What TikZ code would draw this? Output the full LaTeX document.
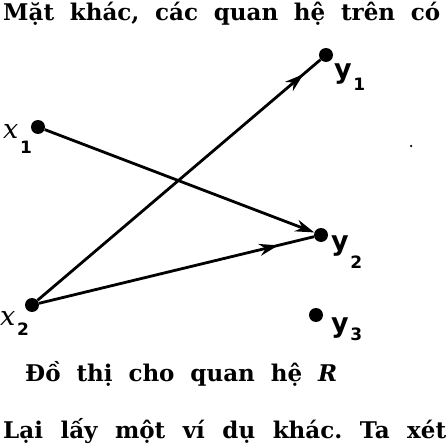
\documentclass[tikz,border=0pt]{standalone}
\usepackage{fontspec}
\setmainfont{DejaVu Serif}
\newfontfamily\labelfont{DejaVu Sans}
\usetikzlibrary{arrows.meta,decorations.markings}
\frenchspacing

\newcommand{\nhan}[3][12pt]{{\fontsize{27}{27}\selectfont #2}\,\raisebox{-#1}{\labelfont\bfseries\fontsize{17}{17}\selectfont #3}}

\tikzset{
	dinh/.style={circle, fill=black, inner sep=0pt, minimum size=14pt},
	nhan/.style={inner sep=0pt, anchor=base west},
	canh/.style={line width=2.8pt},
	mui/.style={postaction={decorate}, decoration={markings,
		mark=at position #1 with {\arrow{Stealth[length=19pt,width=12pt]}}}},
	chu/.style={inner sep=0pt, anchor=base west, font=\fontsize{23}{23}\selectfont\bfseries}
}

\begin{document}
\begin{tikzpicture}[x=1pt,y=-1pt]

		\useasboundingbox (0,0) rectangle (448,447);

		% Van ban
		\node[chu] (dongtren) at (3,20) {\makebox[437pt][s]{Mặt khác, các quan hệ trên có}};
		\node[chu] (chuthich) at (25,381) {\makebox[312pt][s]{Đồ thị cho quan hệ \textit{R}}};
		\node[chu] (dongduoi) at (3,438) {\makebox[443pt][s]{Lại lấy một ví dụ khác. Ta xét}};

		% Dinh
		\node[dinh] (x1) at (38,127) {};
		\node[dinh] (x2) at (32,305) {};
		\node[dinh] (y1) at (326,55) {};
		\node[dinh] (y2) at (321,235) {};
		\node[dinh] (y3) at (316,315) {};
		\node[circle, fill=black, inner sep=0pt, minimum size=2.5pt] (cham) at (411,146) {};

		% Nhan
		\node[nhan] (nx1) at (3,138) {\nhan[15pt]{\itshape x}{1}};
		\node[nhan] (nx2) at (0,325) {\nhan[10pt]{\itshape x}{2}};
		\node[nhan] (ny1) at (334,78) {\nhan{\labelfont\bfseries y}{1}};
		\node[nhan] (ny2) at (331,250) {\nhan[18pt]{\labelfont\bfseries y}{2}};
		\node[nhan] (ny3) at (331,332) {\nhan[8pt]{\labelfont\bfseries y}{3}};

		% Canh
		\draw[canh, -{Stealth[length=19pt,width=12pt]}] (x1) -- (y2);
		\draw[canh, mui=0.87] (x2) -- (y2);
		\draw[canh, mui=0.94] (x2) -- (y1);

\end{tikzpicture}
\end{document}
